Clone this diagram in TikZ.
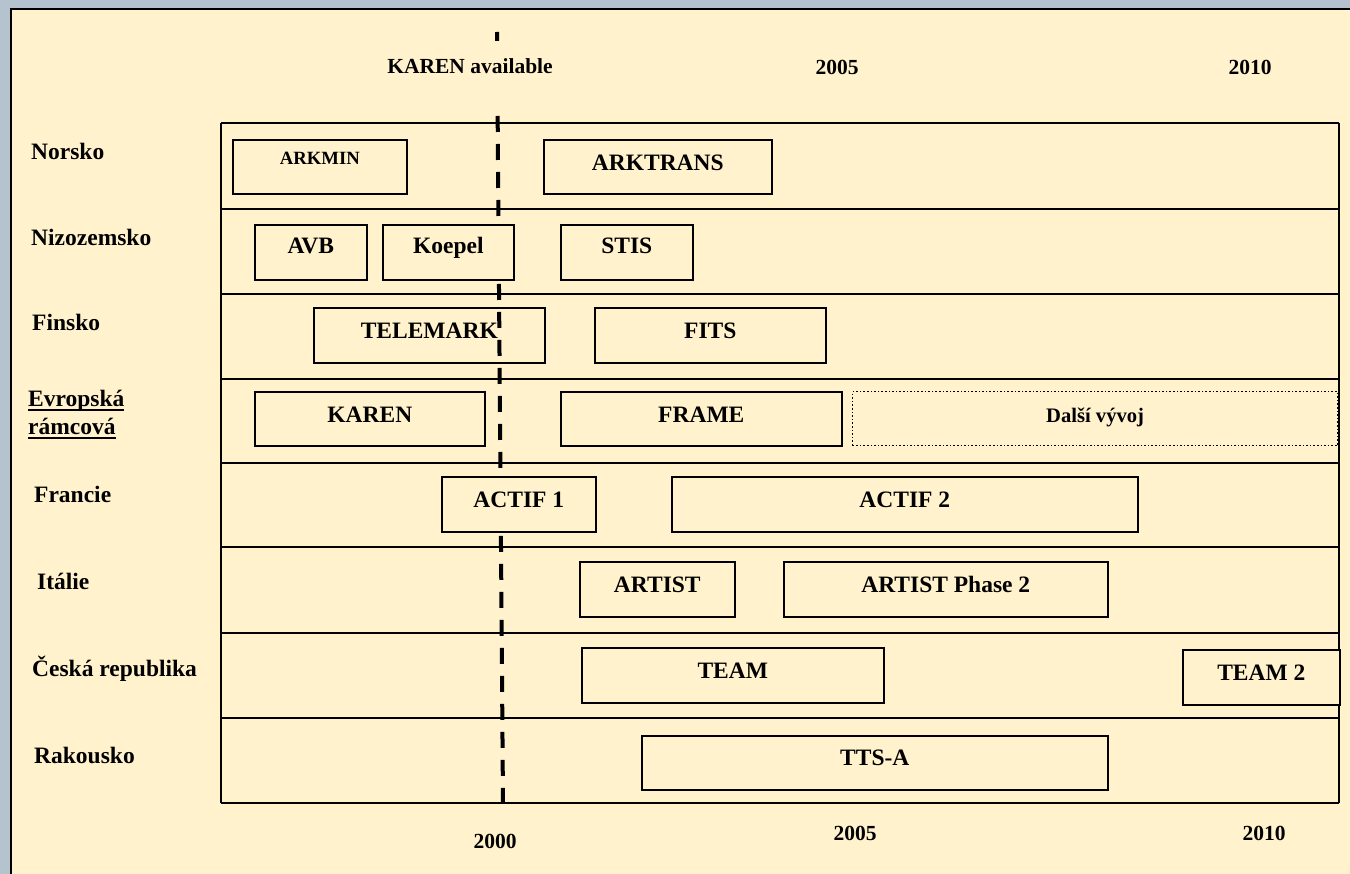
\documentclass[tikz,border=0pt]{standalone}
\usepackage{fontspec}
\setmainfont{Liberation Serif}
\usetikzlibrary{positioning}

\definecolor{paper}{RGB}{255,242,204}
\definecolor{margin}{RGB}{180,195,206}

% underlined row label
\newcommand\rowul[1]{\setbox0\hbox{#1}\rlap{\rule[-4pt]{\wd0}{1.8pt}}\box0}

\begin{document}
\begin{tikzpicture}[
    x=1pt, y=-1pt,
    rowline/.style={line width=1.6pt},
    proj/.style={draw, line width=1.6pt, fill=paper, anchor=north west, inner sep=0pt,
        font=\fontsize{23.5}{28}\selectfont\bfseries, text height=16pt, text depth=9pt},
    rowlabel/.style={anchor=west, inner sep=0pt, font=\fontsize{23.5}{28}\selectfont\bfseries,
        text height=16pt, text depth=0pt},
    year/.style={inner sep=0pt, font=\fontsize{21.5}{26}\selectfont\bfseries},
    milestone/.style={line width=4pt, dash pattern=on 16pt off 12pt}
]

% === FRAME ===
\useasboundingbox (0,0) rectangle (1350,874);
\fill[margin] (0,0) rectangle (1350,874);
\clip (0,0) rectangle (1350,874);
\draw[fill=paper, line width=2pt] (11,9) rectangle (1370,894);

% === ROWS ===
\foreach \y in {123,209,294,379,463,547,633,718,803}
    \draw[rowline] (221,\y) -- (1339,\y);
\draw[rowline] (221,123) -- (221,803);
\draw[rowline] (1339,123) -- (1339,803);

% Row labels
\node[rowlabel] (norsko) at (31,152) {Norsko};
\node[rowlabel] (nizozemsko) at (31,238) {Nizozemsko};
\node[rowlabel] (finsko) at (32,323) {Finsko};
\node[anchor=north west, inner sep=0pt, align=left, font=\fontsize{23.5}{28}\selectfont\bfseries]
    (evropska) at (28,390) {\rowul{Evropská}\\\rowul{rámcová}};
\node[rowlabel] (francie) at (34,495) {Francie};
\node[rowlabel] (italie) at (37,581) {Itálie};
\node[rowlabel] (cesko) at (32,668) {Česká republika};
\node[rowlabel] (rakousko) at (34,755) {Rakousko};

% Telemark lies under the milestone
\node[proj, fill=none, minimum width=231pt, minimum height=55pt] (telemark) at (313,307) {TELEMARK};

% === MILESTONE ===
\coordinate (karenTop) at (497,32);
\coordinate (karenBot) at (503,804);
\draw[milestone] (karenTop) -- (karenBot);

% === PROJECTS ===
\node[proj, minimum width=174pt, minimum height=54pt, font=\fontsize{18.7}{22}\selectfont\bfseries,
    text height=12pt, text depth=16pt] (arkmin) at (232,139) {ARKMIN};
\node[proj, minimum width=228pt, minimum height=54pt, text depth=8pt] (arktrans) at (543,139) {ARKTRANS};

\node[proj, minimum width=112pt, minimum height=55pt, text depth=13pt] (avb) at (254,224) {AVB};
\node[proj, minimum width=131pt, minimum height=55pt, text depth=13pt] (koepel) at (382,224) {Koepel};
\node[proj, minimum width=132pt, minimum height=55pt, text depth=13pt] (stis) at (560,224) {STIS};

\node[proj, minimum width=231pt, minimum height=55pt] (fits) at (594,307) {FITS};

\node[proj, minimum width=230pt, minimum height=54pt, text depth=8pt] (karen) at (254,391) {KAREN};
\node[proj, minimum width=281pt, minimum height=54pt, text depth=8pt] (frame) at (560,391) {FRAME};
\node[proj, dotted, line width=1.2pt, minimum width=485pt, minimum height=54pt,
    font=\fontsize{20.6}{24}\selectfont\bfseries, text height=14pt, text depth=6pt] (dalsi) at (852,391) {Další vývoj};

\node[proj, minimum width=154pt, minimum height=55pt] (actif1) at (441,476) {ACTIF 1};
\node[proj, minimum width=466pt, minimum height=55pt] (actif2) at (671,476) {ACTIF 2};

\node[proj, minimum width=155pt, minimum height=55pt] (artist) at (579,561) {ARTIST};
\node[proj, minimum width=324pt, minimum height=55pt] (artist2) at (783,561) {ARTIST Phase 2};

\node[proj, minimum width=302pt, minimum height=55pt] (team) at (581,647) {TEAM};
\node[proj, minimum width=157pt, minimum height=55pt] (team2) at (1182,649) {TEAM 2};

\node[proj, minimum width=466pt, minimum height=54pt, text depth=10pt] (ttsa) at (641,735) {TTS-A};

% === YEARS ===
\node[year, fill=paper, minimum width=180pt, minimum height=74pt, text height=14pt, text depth=22pt]
    (karenAvail) at (470,78) {KAREN available};
\node[year] (top2005) at (837,67) {2005};
\node[year] (top2010) at (1250,67) {2010};
\node[year] (bot2000) at (495,841) {2000};
\node[year] (bot2005) at (855,833) {2005};
\node[year] (bot2010) at (1264,833) {2010};

\end{tikzpicture}
\end{document}
